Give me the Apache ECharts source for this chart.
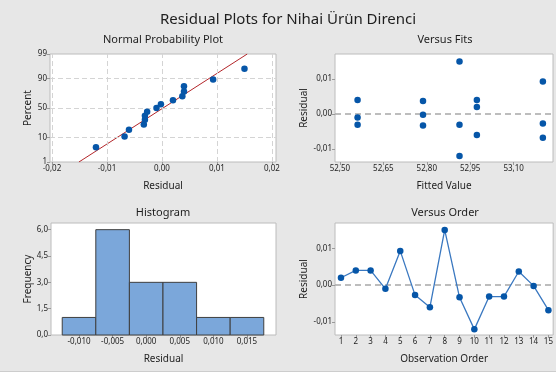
<!DOCTYPE html>
<html><head><meta charset="utf-8">
<script src="https://cdn.jsdelivr.net/npm/echarts@6/dist/echarts.min.js"></script>
<style>html,body{margin:0;padding:0;background:#fff;}#c{width:556px;height:378px;}</style>
</head><body><div id="c"></div>
<script>
// ---- data ----
const observationOrder = [1,2,3,4,5,6,7,8,9,10,11,12,13,14,15];
const residuals = [0.0020, 0.0040, 0.0040, -0.0010, 0.0093, -0.0027, -0.0060, 0.0150, -0.0033, -0.0120, -0.0031, -0.0031, 0.0037, -0.0002, -0.0068];
const fittedValues = [52.973, 52.561, 52.973, 52.561, 53.201, 53.201, 52.973, 52.913, 52.787, 52.913, 52.561, 52.913, 52.787, 52.787, 53.201];
const probPercents = [4.5, 11.0, 17.5, 24.0, 30.5, 37.0, 43.5, 50.0, 56.5, 63.0, 69.5, 76.0, 82.5, 89.0, 95.5];
const fitLineResidual = [-0.0151, 0.0155];
const fitLinePercent = [1, 99];
const histBinStart = [-0.0125, -0.0075, -0.0025, 0.0025, 0.0075, 0.0125];
const histBinEnd = [-0.0075, -0.0025, 0.0025, 0.0075, 0.0125, 0.0175];
const histCounts = [1, 6, 3, 3, 1, 1];
// ---- tick labels ----
const probTickLabels = [1, 10, 50, 90, 99];
const probGridPercents = [10, 50, 90];
const probResidTicks = [-0.02, -0.01, 0, 0.01, 0.02];
const probResidGrid = [-0.02, -0.015, -0.01, -0.005, 0, 0.005, 0.01, 0.015, 0.02];
const fitTicks = [52.50, 52.65, 52.80, 52.95, 53.10];
const residTicks = [-0.01, 0, 0.01];
const histTicks = [-0.010, -0.005, 0, 0.005, 0.010, 0.015];
const freqTicks = [0, 1.5, 3.0, 4.5, 6.0];

// inverse standard normal (Acklam) for the normal-probability scale
function probit(p){
  const a=[-39.69683028665376,220.9460984245205,-275.9285104469687,138.3577518672690,-30.66479806614716,2.506628277459239];
  const b=[-54.47609879822406,161.5858368580409,-155.6989798598866,66.80131188771972,-13.28068155288572];
  const c=[-0.007784894002430293,-0.3223964580411365,-2.400758277161838,-2.549732539343734,4.374664141464968,2.938163982698783];
  const d=[0.007784695709041462,0.3224671290700398,2.445134137142996,3.754408661907416];
  const pl=0.02425;
  let q,r;
  if(p<pl){q=Math.sqrt(-2*Math.log(p));return (((((c[0]*q+c[1])*q+c[2])*q+c[3])*q+c[4])*q+c[5])/((((d[0]*q+d[1])*q+d[2])*q+d[3])*q+1);}
  if(p>1-pl){q=Math.sqrt(-2*Math.log(1-p));return -(((((c[0]*q+c[1])*q+c[2])*q+c[3])*q+c[4])*q+c[5])/((((d[0]*q+d[1])*q+d[2])*q+d[3])*q+1);}
  q=p-0.5;r=q*q;return (((((a[0]*r+a[1])*r+a[2])*r+a[3])*r+a[4])*r+a[5])*q/(((((b[0]*r+b[1])*r+b[2])*r+b[3])*r+b[4])*r+1);
}
const probZTicks = probTickLabels.map(p=>probit(p/100));
const sortedResid = residuals.slice().sort((a,b)=>a-b);

const FONT = 'Noto Sans';
const TXT = '#1e1e1e';
const comma = d => v => v.toFixed(d).replace('.', ',');
const BLUE = '#0656a8';

function gridBox(left, top, width, height){
  return {left, top, width, height, show:true, backgroundColor:'#fff', borderColor:'#bcbcbc', borderWidth:1, containLabel:false};
}
function valAxis(o, ticks, fmt){
  return Object.assign({
    type:'value',
    axisLine:{show:false, onZero:false},
    splitLine:{show:false},
    axisTick:{show:true, length:3, lineStyle:{color:'#9a9a9a'}, customValues:ticks},
    axisLabel:{fontFamily:FONT, fontSize:8, color:TXT, margin:3, customValues:ticks, formatter:fmt},
    nameLocation:'middle',
    nameTextStyle:{fontFamily:FONT, fontSize:10, color:TXT}
  }, o);
}
function zeroLine(){
  return {silent:true, symbol:'none', label:{show:false}, lineStyle:{type:[6,4], color:'#a8a8a8', width:1.5}, data:[{yAxis:0}]};
}
function probLabel(v){
  let bi=0,bd=1e9;
  probZTicks.forEach((z,i)=>{const dd=Math.abs(z-v);if(dd<bd){bd=dd;bi=i;}});
  return String(probTickLabels[bi]);
}

const option = {
  animation:false,
  backgroundColor:'#fff',
  graphic:[
    {type:'rect', z:-100, shape:{x:0,y:0,width:556,height:371}, style:{fill:'#e7e7e7'}},
    {type:'rect', z:-99, shape:{x:0,y:371,width:556,height:1}, style:{fill:'#cdcdcd'}},
    {type:'text', x:288, y:20, style:{text:'Residual Plots for Nihai Ürün Direnci', fontFamily:FONT, fontSize:15, fill:TXT, align:'center', verticalAlign:'middle'}},
    {type:'text', x:163, y:40, style:{text:'Normal Probability Plot', fontFamily:FONT, fontSize:11, fill:TXT, align:'center', verticalAlign:'middle'}},
    {type:'text', x:445, y:40, style:{text:'Versus Fits', fontFamily:FONT, fontSize:11, fill:TXT, align:'center', verticalAlign:'middle'}},
    {type:'text', x:163, y:213, style:{text:'Histogram', fontFamily:FONT, fontSize:11, fill:TXT, align:'center', verticalAlign:'middle'}},
    {type:'text', x:445, y:213, style:{text:'Versus Order', fontFamily:FONT, fontSize:11, fill:TXT, align:'center', verticalAlign:'middle'}}
  ],
  grid:[
    gridBox(50, 54, 226, 108),
    gridBox(335, 54, 218, 108),
    gridBox(51, 223, 225, 112),
    gridBox(335, 223, 219, 112)
  ],
  xAxis:[
    valAxis({gridIndex:0, min:-0.02036, max:0.02073, name:'Residual', nameGap:19}, probResidTicks, comma(2)),
    valAxis({gridIndex:1, min:52.483, max:53.236, name:'Fitted Value', nameGap:19}, fitTicks, comma(2)),
    valAxis({gridIndex:2, min:-0.01417, max:0.01932, name:'Residual', nameGap:19}, histTicks, comma(3)),
    valAxis({gridIndex:3, min:0.597, max:15.32, name:'Observation Order', nameGap:19}, observationOrder, v=>String(Math.round(v)))
  ],
  yAxis:[
    valAxis({gridIndex:0, min:probit(0.01), max:probit(0.99), name:'Percent', nameGap:17}, probZTicks, probLabel),
    valAxis({gridIndex:1, min:-0.01371, max:0.01714, name:'Residual', nameGap:22}, residTicks, comma(2)),
    valAxis({gridIndex:2, min:0, max:6.38, name:'Frequency', nameGap:17}, freqTicks, comma(1)),
    valAxis({gridIndex:3, min:-0.01353, max:0.01687, name:'Residual', nameGap:22}, residTicks, comma(2))
  ],
  series:[
    {type:'line', xAxisIndex:0, yAxisIndex:0, z:3, symbol:'none', silent:true,
      data:fitLineResidual.map((r,i)=>[r, probit(fitLinePercent[i]/100)]),
      lineStyle:{color:'#b3262a', width:1},
      markLine:{silent:true, symbol:'none', label:{show:false}, lineStyle:{type:[5,3], color:'#d4d4d4', width:1},
        data:probResidGrid.map(x=>({xAxis:x})).concat(probGridPercents.map(p=>({yAxis:probit(p/100)})))}},
    {type:'scatter', xAxisIndex:0, yAxisIndex:0, z:5, symbolSize:6.5,
      data:sortedResid.map((r,i)=>[r, probit(probPercents[i]/100)]),
      itemStyle:{color:BLUE, opacity:1}},
    {type:'scatter', xAxisIndex:1, yAxisIndex:1, z:5, symbolSize:6.5,
      data:residuals.map((r,i)=>[fittedValues[i], r]),
      itemStyle:{color:BLUE, opacity:1}, markLine:zeroLine()},
    {type:'custom', xAxisIndex:2, yAxisIndex:2,
      data:histCounts.map((c,i)=>[histBinStart[i], histBinEnd[i], c]),
      renderItem:(params, api)=>{
        const p0 = api.coord([api.value(0), 0]);
        const p1 = api.coord([api.value(1), api.value(2)]);
        return {type:'rect', shape:{x:p0[0], y:p1[1], width:p1[0]-p0[0], height:p0[1]-p1[1]},
          style:{fill:'#7ba7da', stroke:'#3f3f3f', lineWidth:1}};
      }},
    {type:'line', xAxisIndex:3, yAxisIndex:3, z:5, symbol:'circle', symbolSize:6.5,
      data:residuals.map((r,i)=>[observationOrder[i], r]),
      lineStyle:{color:'#3a78c0', width:1.3},
      itemStyle:{color:BLUE, opacity:1}, markLine:zeroLine()}
  ]
};
echarts.init(document.getElementById('c'), null, {renderer:'canvas'}).setOption(option);
</script></body></html>
